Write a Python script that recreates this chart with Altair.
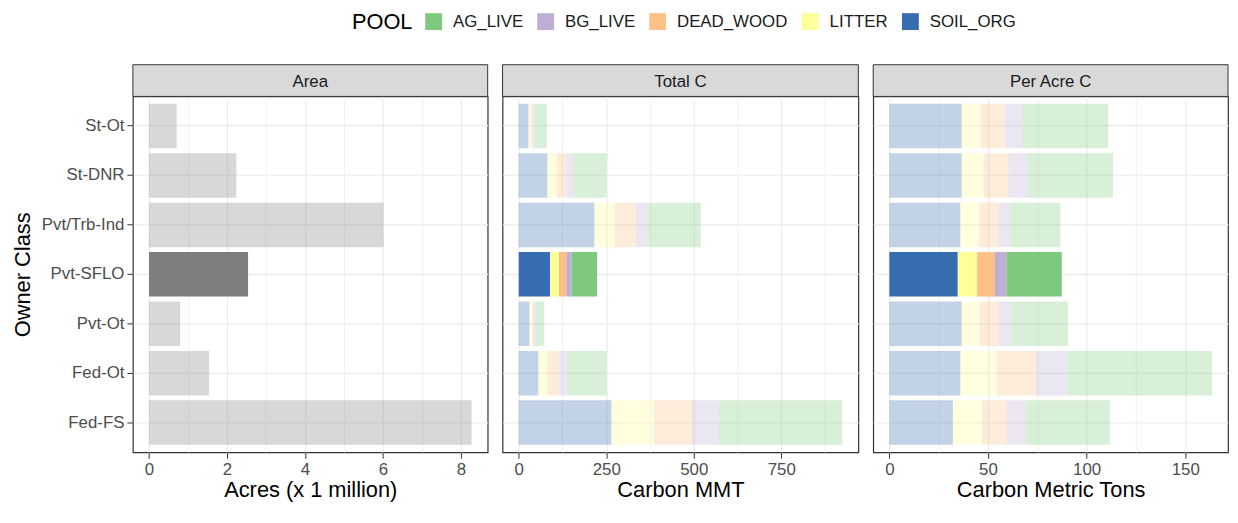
import altair as alt
import pandas as pd

# ---------------- data ----------------
owners = ["St-Ot", "St-DNR", "Pvt/Trb-Ind", "Pvt-SFLO", "Pvt-Ot", "Fed-Ot", "Fed-FS"]
highlight = "Pvt-SFLO"

area_macres = [0.71, 2.24, 6.01, 2.54, 0.80, 1.54, 8.27]

stack_pools = ["SOIL_ORG", "LITTER", "DEAD_WOOD", "BG_LIVE", "AG_LIVE"]
legend_pools = ["AG_LIVE", "BG_LIVE", "DEAD_WOOD", "LITTER", "SOIL_ORG"]
pool_colors = ["#7FC97F", "#BEAED4", "#FDC086", "#FFFF99", "#386CB0"]

total_soil = [28, 82, 216, 90, 31, 56, 265]
total_litter = [5, 26, 58, 25, 6.5, 26, 122]
total_dead = [8, 28, 60, 21, 6, 34, 107]
total_bg = [6, 20, 34, 15, 5.5, 22, 78]
total_ag = [33, 95, 152, 73, 24, 113, 352]

peracre_soil = [36.7, 36.7, 36.0, 34.7, 36.7, 36.0, 32.2]
peracre_litter = [9.8, 11.1, 9.6, 9.8, 9.0, 18.4, 14.8]
peracre_dead = [12.3, 12.6, 9.8, 9.0, 9.8, 19.9, 12.6]
peracre_bg = [8.8, 9.6, 5.6, 6.0, 6.1, 16.1, 9.5]
peracre_ag = [43.4, 43.4, 25.7, 27.9, 28.9, 73.1, 42.7]

area_major, area_minor = [0, 2, 4, 6, 8], [1, 3, 5, 7]
total_major, total_minor = [0, 250, 500, 750], [125, 375, 625, 875]
peracre_major, peracre_minor = [0, 50, 100, 150], [25, 75, 125]

# ---------------- tables ----------------
area_df = pd.DataFrame({"owner": owners, "value": area_macres})


def long_table(series):
    rows = []
    for k, pool in enumerate(stack_pools):
        for o, v in zip(owners, series[k]):
            rows.append({"owner": o, "pool": pool, "order": k, "value": v})
    return pd.DataFrame(rows)


total_df = long_table([total_soil, total_litter, total_dead, total_bg, total_ag])
peracre_df = long_table([peracre_soil, peracre_litter, peracre_dead, peracre_bg, peracre_ag])

FONT = "Liberation Sans"
PANEL_H = 359
STRIP_H = 32
GRID = "#EBEBEB"
TICK_FS = 17


def x_axis(title, major, minor):
    test = f"indexof({major}, datum.value) >= 0"
    return alt.Axis(
        values=sorted(major + minor),
        title=title,
        labelExpr=f"{test} ? datum.label : ''",
        grid=True,
        gridColor=GRID,
        gridWidth={"condition": {"test": test, "value": 1.2}, "value": 0.7},
        tickColor={"condition": {"test": test, "value": "#333333"}, "value": "rgba(0,0,0,0)"},
        tickSize=6,
        tickWidth=1,
        domain=False,
        labelFontSize=TICK_FS,
        labelColor="#4D4D4D",
        labelPadding=3,
        titleFontSize=22,
        titleFontWeight="normal",
        titleColor="#000000",
        titlePadding=3,
        labelFlush=False,
    )


def y_axis(show):
    if show:
        return alt.Axis(
            title="Owner Class", grid=True, gridColor=GRID, gridWidth=1.2,
            bandPosition=0.5, domain=False, tickSize=6, tickColor="#333333",
            labelFontSize=TICK_FS, labelColor="#4D4D4D", labelPadding=3,
            titleFontSize=22, titleFontWeight="normal", titleColor="#000000",
            titlePadding=7,
        )
    return alt.Axis(title=None, labels=False, ticks=False, domain=False, grid=True,
                    gridColor=GRID, gridWidth=1.2, bandPosition=0.5)


def strip(label, width):
    sdf = pd.DataFrame({"label": [label]})
    rect = alt.Chart(sdf).mark_rect(fill="#D9D9D9", stroke="#333333", strokeWidth=1).encode(
        x=alt.value(0), x2=alt.value(width), y=alt.value(-STRIP_H), y2=alt.value(0)
    )
    txt = alt.Chart(sdf).mark_text(font=FONT, fontSize=TICK_FS, color="#1A1A1A",
                                   align="center", baseline="middle").encode(
        x=alt.value(width / 2), y=alt.value(-STRIP_H / 2 + 1), text="label:N"
    )
    return rect, txt


opacity = alt.condition(f"datum.owner == '{highlight}'", alt.value(1.0), alt.value(0.3))
yscale = alt.Scale(domain=owners, paddingInner=0.1, paddingOuter=0.15)


def domain_for(df):
    m = df.groupby("owner")["value"].sum().max()
    return [-0.05 * m, 1.05 * m]


# Panel 1: Area
W1, W2, W3 = 358, 359, 358
p1_bars = alt.Chart(area_df).mark_bar(color="#7F7F7F").encode(
    y=alt.Y("owner:N", sort=owners, scale=yscale, axis=y_axis(True)),
    x=alt.X("value:Q", scale=alt.Scale(domain=domain_for(area_df), nice=False, zero=False),
            axis=x_axis("Acres (x 1 million)", area_major, area_minor)),
    opacity=opacity,
)
r1, t1 = strip("Area", W1)
p1 = alt.layer(p1_bars, r1, t1).properties(width=W1, height=PANEL_H)

legend = alt.Legend(
    title="POOL", orient="none", direction="horizontal", legendX=221, legendY=-84,
    titleOrient="left", titleFontSize=22, titleFontWeight="normal", titleColor="#000000",
    titlePadding=12, labelFontSize=TICK_FS, labelColor="#1A1A1A", symbolType="square",
    symbolSize=289, symbolStrokeWidth=0, symbolOpacity=1, labelOffset=11,
    columnPadding=14, titleBaseline="middle", titleAnchor="middle",
)


def carbon_panel(df, label, xtitle, major, minor, width):
    bars = alt.Chart(df).mark_bar().encode(
        y=alt.Y("owner:N", sort=owners, scale=yscale, axis=y_axis(False)),
        x=alt.X("value:Q", stack="zero",
                scale=alt.Scale(domain=domain_for(df), nice=False, zero=False),
                axis=x_axis(xtitle, major, minor)),
        color=alt.Color("pool:N", scale=alt.Scale(domain=legend_pools, range=pool_colors),
                        legend=legend),
        order=alt.Order("order:Q", sort="ascending"),
        opacity=opacity,
    )
    r, t = strip(label, width)
    return alt.layer(bars, r, t).properties(width=width, height=PANEL_H)


p2 = carbon_panel(total_df, "Total C", "Carbon MMT", total_major, total_minor, W2)
p3 = carbon_panel(peracre_df, "Per Acre C", "Carbon Metric Tons", peracre_major, peracre_minor, W3)

chart = alt.hconcat(p1, p2, p3, spacing=11).resolve_scale(x="independent").properties(
    padding={"left": 2, "top": 3, "right": 0, "bottom": 0}
).configure(font=FONT).configure_view(stroke="#333333", strokeWidth=1.2)

chart.save("out.html", embed_options={"renderer": "svg", "actions": False})
